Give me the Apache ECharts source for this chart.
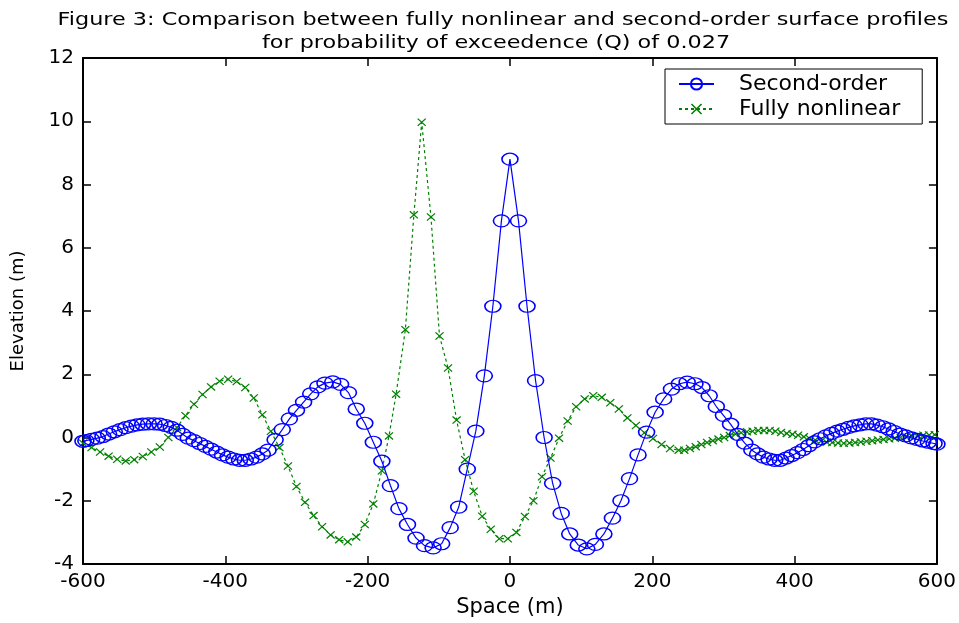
<!DOCTYPE html>
<html>
<head>
<meta charset="utf-8">
<script src="https://cdn.jsdelivr.net/npm/echarts@6/dist/echarts.min.js"></script>
<style>
  html, body { margin: 0; padding: 0; background: #fff; }
  #chart { width: 959px; height: 623px; }
</style>
</head>
<body>
<div id="chart"></div>
<script>
var titleLines = ['Figure 3: Comparison between fully nonlinear and second-order surface profiles',
                  'for probability of exceedence (Q) of 0.027'];
var seriesNames = ['Second-order', 'Fully nonlinear'];
var xTicks = [-600, -400, -200, 0, 200, 400, 600];
var yTicks = [-4, -2, 0, 2, 4, 6, 8, 10, 12];

// second-order profile
var secondX = [
  -600, -596, -588, -580, -572, -564, -556, -548, -540, -532,
  -524, -516, -508, -500, -492, -484, -476, -468, -460, -452,
  -444, -436, -428, -420, -412, -404, -396, -388, -380, -372,
  -364, -356, -348, -340, -330, -320, -310, -300, -290, -280,
  -270, -260, -249, -238, -227, -216, -204, -192, -180, -168,
  -156, -144, -132, -120, -108, -96, -84, -72, -60, -48,
  -36, -24, -12, 0, 12, 24, 36, 48, 60, 72,
  84, 96, 108, 120, 132, 144, 156, 168, 180, 192,
  204, 216, 227, 238, 249, 260, 270, 280, 290, 300,
  310, 320, 330, 340, 348, 356, 364, 372, 380, 388,
  396, 404, 412, 420, 428, 436, 444, 452, 460, 468,
  476, 484, 492, 500, 508, 516, 524, 532, 540, 548,
  556, 564, 572, 580, 588, 596, 600
];
var secondY = [
  -0.12, -0.10, -0.06, -0.02, 0.03, 0.11, 0.18, 0.25, 0.31, 0.36,
  0.40, 0.42, 0.43, 0.43, 0.42, 0.38, 0.32, 0.23, 0.10, -0.02,
  -0.10, -0.19, -0.28, -0.37, -0.46, -0.55, -0.62, -0.68, -0.72, -0.72,
  -0.68, -0.62, -0.52, -0.40, -0.07, 0.25, 0.59, 0.86, 1.12, 1.38,
  1.60, 1.72, 1.76, 1.68, 1.42, 0.90, 0.45, -0.15, -0.75, -1.52,
  -2.25, -2.75, -3.18, -3.42, -3.49, -3.36, -2.85, -2.20, -1.00, 0.20,
  1.95, 4.15, 6.85, 8.80, 6.85, 4.15, 1.80, 0.00, -1.45, -2.40,
  -3.05, -3.40, -3.52, -3.38, -3.05, -2.55, -2.00, -1.30, -0.55, 0.17,
  0.80, 1.22, 1.53, 1.70, 1.75, 1.70, 1.58, 1.32, 0.98, 0.70,
  0.42, 0.10, -0.18, -0.40, -0.52, -0.62, -0.68, -0.72, -0.72, -0.65,
  -0.57, -0.48, -0.38, -0.26, -0.14, -0.04, 0.05, 0.13, 0.20, 0.26,
  0.32, 0.37, 0.40, 0.43, 0.43, 0.39, 0.34, 0.27, 0.19, 0.11,
  0.05, -0.01, -0.06, -0.11, -0.15, -0.19, -0.21
];

// fully nonlinear profile
var nonlinX = [
  -600, -588, -576, -564, -552, -540, -528, -516, -504, -492,
  -480, -468, -456, -444, -432, -420, -408, -396, -384, -372,
  -360, -348, -336, -324, -312, -300, -288, -276, -264, -252,
  -240, -228, -216, -204, -192, -180, -170, -160, -147, -135,
  -124, -111, -99, -87, -75, -63, -51, -39, -27, -15,
  -3, 9, 21, 33, 45, 57, 69, 81, 93, 105,
  117, 129, 141, 153, 165, 177, 189, 201, 213, 225,
  237, 245, 253, 261, 269, 277, 285, 293, 301, 309,
  317, 325, 333, 341, 349, 357, 365, 373, 381, 389,
  397, 405, 413, 421, 429, 437, 445, 453, 461, 469,
  477, 485, 493, 501, 509, 517, 525, 533, 541, 549,
  557, 565, 573, 581, 589, 597
];
var nonlinY = [
  -0.18, -0.32, -0.46, -0.59, -0.69, -0.74, -0.70, -0.60, -0.46, -0.30,
  0.00, 0.32, 0.69, 1.05, 1.36, 1.60, 1.78, 1.84, 1.77, 1.58,
  1.25, 0.72, 0.20, -0.32, -0.90, -1.55, -2.05, -2.47, -2.82, -3.08,
  -3.23, -3.30, -3.15, -2.75, -2.10, -1.05, 0.05, 1.37, 3.41, 7.04,
  9.97, 6.97, 3.21, 2.20, 0.55, -0.70, -1.70, -2.49, -2.90, -3.20,
  -3.20, -3.00, -2.50, -2.00, -1.24, -0.65, -0.02, 0.52, 0.97, 1.22,
  1.32, 1.27, 1.10, 0.90, 0.62, 0.38, 0.15, -0.03, -0.22, -0.35,
  -0.40, -0.40, -0.35, -0.29, -0.22, -0.16, -0.10, -0.05, 0.00, 0.06,
  0.11, 0.15, 0.18, 0.20, 0.22, 0.22, 0.22, 0.20, 0.16, 0.13,
  0.10, 0.07, 0.02, -0.03, -0.08, -0.12, -0.15, -0.16, -0.17, -0.18,
  -0.17, -0.16, -0.14, -0.12, -0.10, -0.08, -0.06, -0.04, -0.02, 0.00,
  0.02, 0.04, 0.05, 0.07, 0.08, 0.09
];

function pairs(xs, ys) {
  return xs.map(function (x, i) { return [x, ys[i]]; });
}

var FONT = 'DejaVu Sans';
var crossPath = 'path://M0,1L1,0L10,9L9,10Z M9,0L10,1L1,10L0,9Z';

var chart = echarts.init(document.getElementById('chart'));

var frameAxis = {
  axisLine: { show: true, onZero: false, lineStyle: { color: '#000', width: 2 } },
  axisTick: { show: true, inside: true, length: 8, lineStyle: { color: '#000', width: 1.5 } },
  splitLine: { show: false }
};

// the figure's text is a little wider than the font, so stretch it
function titleText(str, y, x) {
  return {
    type: 'text', x: x, y: y, scaleX: 1.24,
    style: {
      text: str, fill: '#000', font: '18px "DejaVu Sans"',
      textAlign: 'center', textVerticalAlign: 'middle'
    }
  };
}

var option = {
  animation: false,
  backgroundColor: '#fff',
  graphic: [
    titleText(titleLines[0], 20, 503),
    titleText(titleLines[1], 43, 496)
  ],
  legend: {
    data: seriesNames,
    orient: 'vertical',
    left: 665,
    top: 69,
    padding: [4, 22, 4, 13],
    itemGap: 3,
    itemWidth: 35,
    itemHeight: 14,
    borderColor: '#000',
    borderWidth: 1,
    backgroundColor: '#fff',
    textStyle: { fontFamily: FONT, fontSize: 22, color: '#000', padding: [0, 0, 0, 20] }
  },
  grid: { left: 83, right: 19, top: 58, bottom: 55, containLabel: false },
  xAxis: [
    Object.assign({
      type: 'value', min: -600, max: 600, interval: 200,
      name: 'Space (m)', nameLocation: 'middle', nameGap: 33,
      nameTextStyle: { fontFamily: FONT, fontSize: 21, color: '#000' },
      axisLabel: {
        fontFamily: FONT, fontSize: 20, color: '#000', margin: 8,
        formatter: function (v) { return xTicks.indexOf(v) >= 0 ? String(v) : ''; }
      }
    }, frameAxis),
    Object.assign({
      type: 'value', min: -600, max: 600, interval: 200, position: 'top',
      axisLabel: { show: false }
    }, frameAxis)
  ],
  yAxis: [
    Object.assign({
      type: 'value', min: -4, max: 12, interval: 2,
      name: 'Elevation (m)', nameLocation: 'middle', nameGap: 56,
      nameTextStyle: { fontFamily: FONT, fontSize: 18, color: '#000' },
      axisLabel: {
        fontFamily: FONT, fontSize: 20, color: '#000', margin: 9,
        formatter: function (v) { return yTicks.indexOf(v) >= 0 ? String(v) : ''; }
      }
    }, frameAxis),
    Object.assign({
      type: 'value', min: -4, max: 12, interval: 2, position: 'right',
      axisLabel: { show: false }
    }, frameAxis)
  ],
  series: [
    {
      name: seriesNames[0],
      type: 'line',
      data: pairs(secondX, secondY),
      symbol: 'circle',
      symbolSize: [16, 12],
      showAllSymbol: true,
      lineStyle: { color: '#0000ff', width: 1.2 },
      itemStyle: { color: 'rgba(255,255,255,0)', borderColor: '#0000ff', borderWidth: 1.4 },
      z: 3
    },
    {
      name: seriesNames[1],
      type: 'line',
      data: pairs(nonlinX, nonlinY),
      symbol: crossPath,
      symbolSize: [9, 8],
      showAllSymbol: true,
      lineStyle: { color: '#008000', width: 1.2, type: [3, 3] },
      itemStyle: { color: '#008000', borderWidth: 0 },
      z: 2
    }
  ]
};

chart.setOption(option);
</script>
</body>
</html>
